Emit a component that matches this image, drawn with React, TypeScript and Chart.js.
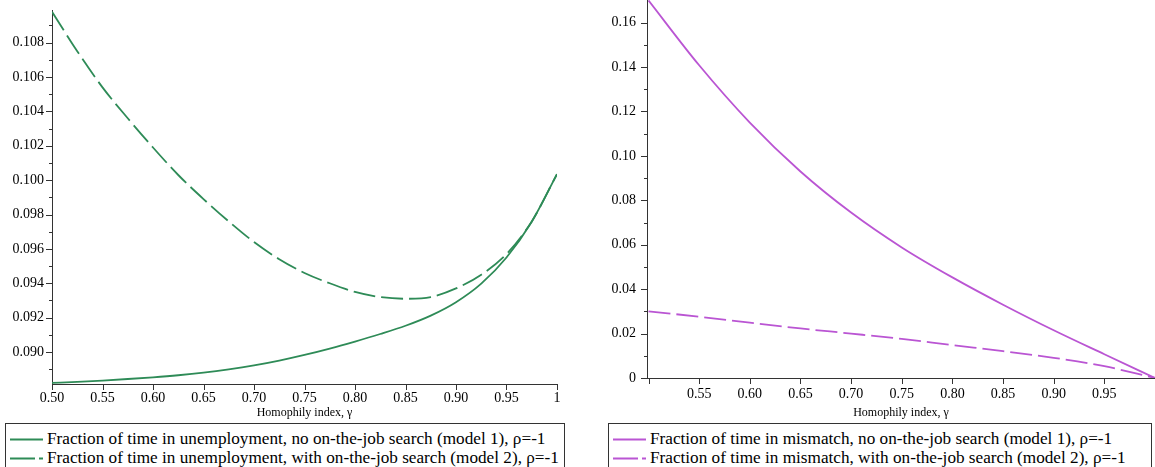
import React, { useEffect, useRef } from 'react';
import { Chart, registerables } from 'chart.js';

Chart.register(...registerables);

// ---------- data ----------
const gammaFine = [0.5, 0.525, 0.55, 0.575, 0.6, 0.625, 0.65, 0.675, 0.7, 0.725, 0.75, 0.775, 0.8, 0.825, 0.85, 0.875, 0.9, 0.925, 0.95, 0.975, 1.0];
const unempModel1 = [0.0882, 0.08826, 0.08834, 0.08843, 0.08853, 0.08865, 0.0888, 0.08899, 0.08922, 0.0895, 0.08983, 0.0902, 0.09061, 0.09105, 0.09153, 0.09212, 0.0929, 0.09398, 0.0955, 0.09758, 0.10035];
const unempModel2 = [0.1098, 0.1075, 0.1054, 0.1036, 0.1019, 0.1003, 0.0989, 0.0976, 0.0964, 0.0954, 0.0946, 0.094, 0.0935, 0.0932, 0.0931, 0.0932, 0.0937, 0.0945, 0.0957, 0.0976, 0.10035];

const gammaCoarse = [0.5, 0.55, 0.6, 0.65, 0.7, 0.75, 0.8, 0.85, 0.9, 0.95, 1.0];
const mismatchModel1 = [0.17, 0.1408, 0.115, 0.093, 0.0745, 0.0588, 0.0453, 0.033, 0.0215, 0.0107, 0.0];
const mismatchModel2 = [0.03, 0.0276, 0.0249, 0.0223, 0.02, 0.0176, 0.0148, 0.0121, 0.0091, 0.0053, 0.0];

const leftXTicks = [0.5, 0.55, 0.6, 0.65, 0.7, 0.75, 0.8, 0.85, 0.9, 0.95, 1.0];
const leftXLabels = ['0.50', '0.55', '0.60', '0.65', '0.70', '0.75', '0.80', '0.85', '0.90', '0.95', '1'];
const leftYMajor = [0.09, 0.092, 0.094, 0.096, 0.098, 0.1, 0.102, 0.104, 0.106, 0.108];
const leftYLabels = ['0.090', '0.092', '0.094', '0.096', '0.098', '0.100', '0.102', '0.104', '0.106', '0.108'];
const leftYMinor = [0.089, 0.091, 0.093, 0.095, 0.097, 0.099, 0.101, 0.103, 0.105, 0.107, 0.109];

const rightXTicks = [0.5, 0.55, 0.6, 0.65, 0.7, 0.75, 0.8, 0.85, 0.9, 0.95, 1.0];
const rightXLabels = ['', '0.55', '0.60', '0.65', '0.70', '0.75', '0.80', '0.85', '0.90', '0.95', ''];
const rightYMajor = [0, 0.02, 0.04, 0.06, 0.08, 0.1, 0.12, 0.14, 0.16];
const rightYLabels = ['0', '0.02', '0.04', '0.06', '0.08', '0.10', '0.12', '0.14', '0.16'];
const rightYMinor = [0.01, 0.03, 0.05, 0.07, 0.09, 0.11, 0.13, 0.15];

const leftSeriesNames = [
  'Fraction of time in unemployment, no on-the-job search (model 1), ρ=-1',
  'Fraction of time in unemployment, with on-the-job search (model 2), ρ=-1',
];
const rightSeriesNames = [
  'Fraction of time in mismatch, no on-the-job search (model 1), ρ=-1',
  'Fraction of time in mismatch, with on-the-job search (model 2), ρ=-1',
];
const xTitle = 'Homophily index, γ';

const GREEN = '#2E8B57';
const PURPLE = '#BA55D3';
const AXIS = '#333';
const FONT = '"Liberation Serif", "Times New Roman", Times, serif';
const DASH = [22, 6];

// ---------- helpers ----------
function near(a: number, b: number) {
  return Math.abs(a - b) < 1e-9;
}
function labelFor(v: number, vals: number[], labels: string[]) {
  const i = vals.findIndex((t) => near(t, v));
  return i >= 0 ? labels[i] : '';
}
function buildTicks(major: number[], minor: number[]) {
  const all = [
    ...major.map((v) => ({ value: v, isMajor: true })),
    ...minor.map((v) => ({ value: v, isMajor: false })),
  ];
  all.sort((a, b) => a.value - b.value);
  return all;
}

const tickMarks = {
  id: 'tickMarks',
  afterDraw(chart: any) {
    const ctx = chart.ctx;
    ctx.save();
    ctx.strokeStyle = AXIS;
    ctx.lineWidth = 1;
    const xs = chart.scales.x;
    const ys = chart.scales.y;
    ctx.beginPath();
    for (const t of xs.ticks) {
      const len = t.isMajor ? 6 : 3;
      const px = Math.round(xs.getPixelForValue(t.value)) + 0.5;
      ctx.moveTo(px, xs.top);
      ctx.lineTo(px, xs.top + len);
    }
    for (const t of ys.ticks) {
      const len = t.isMajor ? 6 : 3;
      const py = Math.round(ys.getPixelForValue(t.value)) + 0.5;
      ctx.moveTo(ys.right - len, py);
      ctx.lineTo(ys.right, py);
    }
    ctx.stroke();
    ctx.restore();
  },
};

interface PanelProps {
  left: number;
  width: number;
  height: number;
  color: string;
  xs: number[];
  s1: number[];
  s2: number[];
  names: string[];
  xMin: number;
  xMax: number;
  yMin: number;
  yMax: number;
  xMajor: number[];
  xLabels: string[];
  yMajor: number[];
  yLabels: string[];
  yMinor: number[];
  yAxisWidth: number;
  xAxisHeight: number;
  padTop: number;
  padRight: number;
  yLabelGap: number;
  xLabelGap: number;
}

function Panel(p: PanelProps) {
  const ref = useRef<HTMLCanvasElement | null>(null);
  useEffect(() => {
    if (!ref.current) return;
    const pts = (arr: number[]) => p.xs.map((x, i) => ({ x, y: arr[i] }));
    const chart = new Chart(ref.current, {
      type: 'line',
      data: {
        datasets: [
          {
            label: p.names[0],
            data: pts(p.s1),
            borderColor: p.color,
            borderWidth: 1.8,
            pointRadius: 0,
            fill: false,
            cubicInterpolationMode: 'monotone',
          },
          {
            label: p.names[1],
            data: pts(p.s2),
            borderColor: p.color,
            borderWidth: 1.8,
            borderDash: DASH,
            pointRadius: 0,
            fill: false,
            cubicInterpolationMode: 'monotone',
          },
        ],
      },
      options: {
        animation: false,
        responsive: false,
        maintainAspectRatio: false,
        layout: { padding: { left: 0, top: p.padTop, right: p.padRight, bottom: 0 } },
        plugins: { legend: { display: false }, tooltip: { enabled: false }, title: { display: false } },
        scales: {
          x: {
            type: 'linear',
            position: 'bottom',
            min: p.xMin,
            max: p.xMax,
            afterBuildTicks: (s: any) => {
              s.ticks = buildTicks(p.xMajor, []);
            },
            afterFit: (s: any) => {
              s.height = p.xAxisHeight;
              s.paddingLeft = 0;
              s.paddingRight = 0;
              s.paddingTop = 0;
              s.paddingBottom = 0;
            },
            grid: { display: false, drawTicks: true, tickLength: p.xLabelGap },
            border: { display: true, color: AXIS, width: 1 },
            ticks: {
              autoSkip: false,
              maxRotation: 0,
              minRotation: 0,
              padding: 0,
              color: '#000',
              font: { family: FONT, size: 14 },
              callback: (v: any) => labelFor(Number(v), p.xMajor, p.xLabels),
            },
            title: {
              display: true,
              text: xTitle,
              color: '#000',
              font: { family: FONT, size: 12 },
              padding: { top: 0, bottom: 0 },
            },
          },
          y: {
            type: 'linear',
            position: 'left',
            min: p.yMin,
            max: p.yMax,
            afterBuildTicks: (s: any) => {
              s.ticks = buildTicks(p.yMajor, p.yMinor);
            },
            afterFit: (s: any) => {
              s.width = p.yAxisWidth;
              s.paddingLeft = 0;
              s.paddingRight = 0;
              s.paddingTop = 0;
              s.paddingBottom = 0;
            },
            grid: { display: false, drawTicks: true, tickLength: p.yLabelGap },
            border: { display: true, color: AXIS, width: 1 },
            ticks: {
              autoSkip: false,
              padding: 0,
              color: '#000',
              font: { family: FONT, size: 14 },
              callback: (v: any) => labelFor(Number(v), p.yMajor, p.yLabels),
            },
          },
        },
      } as any,
      plugins: [tickMarks],
    });
    return () => chart.destroy();
  }, []);
  return (
    <canvas
      ref={ref}
      width={p.width}
      height={p.height}
      style={{ position: 'absolute', left: p.left, top: 0, width: p.width, height: p.height, display: 'block' }}
    />
  );
}

function Legend({ left, top, width, color, names }: { left: number; top: number; width: number; color: string; names: string[] }) {
  const row = (i: number, dashed: boolean) => (
    <div key={i} style={{ position: 'absolute', left: 0, top: 5 + i * 19, height: 20, width: '100%' }}>
      <svg width={36} height={20} style={{ position: 'absolute', left: 3, top: 0 }}>
        <line
          x1={1}
          y1={10.5}
          x2={34}
          y2={10.5}
          stroke={color}
          strokeWidth={1.8}
          strokeDasharray={dashed ? '25 4 4 40' : undefined}
        />
      </svg>
      <span
        style={{
          position: 'absolute',
          left: 41,
          top: 0,
          lineHeight: '20px',
          fontSize: 17.2,
          fontFamily: FONT,
          color: '#000',
          whiteSpace: 'nowrap',
        }}
      >
        {names[i]}
      </span>
    </div>
  );
  return (
    <div
      style={{
        position: 'absolute',
        left,
        top,
        width,
        height: 60,
        border: `1px solid ${AXIS}`,
        boxSizing: 'border-box',
        background: '#fff',
      }}
    >
      {row(0, false)}
      {row(1, true)}
    </div>
  );
}

export default function App() {
  return (
    <div style={{ position: 'absolute', left: 0, top: 0, width: 1155, height: 467, overflow: 'hidden', background: '#fff' }}>
      <Panel
        left={0}
        width={580}
        height={420}
        color={GREEN}
        xs={gammaFine}
        s1={unempModel1}
        s2={unempModel2}
        names={leftSeriesNames}
        xMin={0.5}
        xMax={1.0}
        yMin={0.08814}
        yMax={0.1099}
        xMajor={leftXTicks}
        xLabels={leftXLabels}
        yMajor={leftYMajor}
        yLabels={leftYLabels}
        yMinor={leftYMinor}
        yAxisWidth={52}
        xAxisHeight={36}
        padTop={10}
        padRight={23}
        yLabelGap={8}
        xLabelGap={6}
      />
      <Panel
        left={590}
        width={565}
        height={420}
        color={PURPLE}
        xs={gammaCoarse}
        s1={mismatchModel1}
        s2={mismatchModel2}
        names={rightSeriesNames}
        xMin={0.4985}
        xMax={1.0}
        yMin={0}
        yMax={0.1702}
        xMajor={rightXTicks}
        xLabels={rightXLabels}
        yMajor={rightYMajor}
        yLabels={rightYLabels}
        yMinor={rightYMinor}
        yAxisWidth={57}
        xAxisHeight={42}
        padTop={0}
        padRight={0}
        yLabelGap={11}
        xLabelGap={8}
      />
      <Legend left={5} top={423} width={560} color={GREEN} names={leftSeriesNames} />
      <Legend left={608} top={423} width={544} color={PURPLE} names={rightSeriesNames} />
    </div>
  );
}
